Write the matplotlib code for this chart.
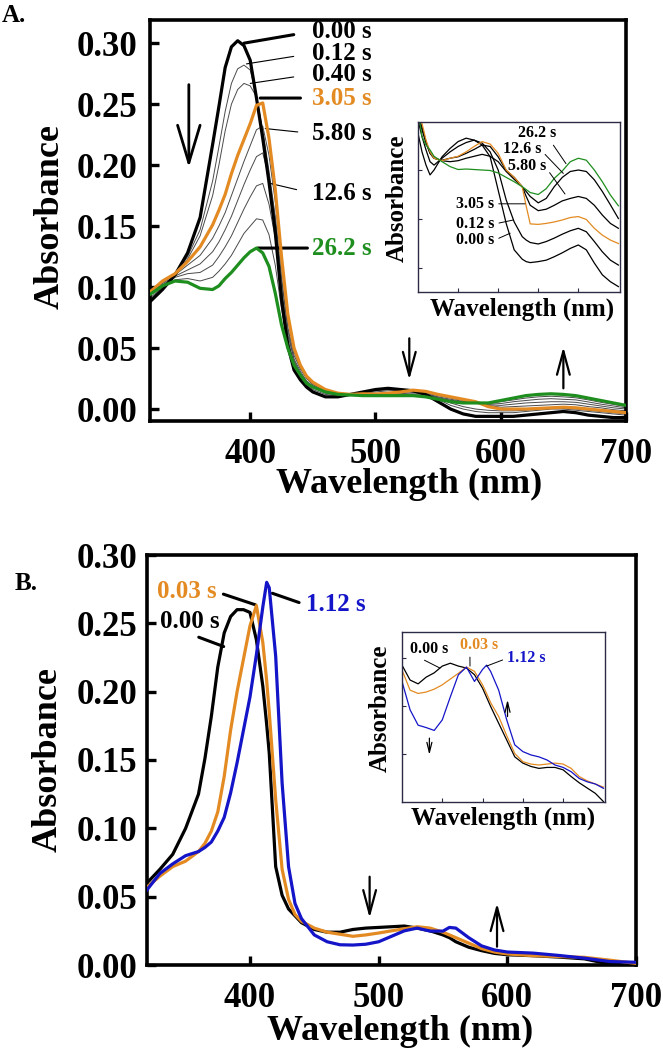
import matplotlib
matplotlib.use("Agg")
import matplotlib.pyplot as plt

plt.rcParams['font.family'] = ['Liberation Serif', 'DejaVu Serif']
plt.rcParams['font.weight'] = 'bold'
plt.rcParams['axes.labelweight'] = 'bold'

# ---------------- Panel A : main spectra ----------------
wl_a = [320, 330, 340, 350, 360, 370, 375, 380, 385, 390, 395, 400, 405, 410, 415,
        420, 425, 430, 435, 440, 445, 450, 460, 470, 480, 490, 500, 510, 520, 530,
        540, 550, 560, 570, 580, 590, 600, 610, 620, 630, 640, 650, 660, 670, 680,
        690, 700]
a_000 = [0.088, 0.098, 0.110, 0.128, 0.157, 0.217, 0.248, 0.280, 0.297, 0.302, 0.298, 0.286,
         0.255, 0.222, 0.186, 0.145, 0.090, 0.052, 0.032, 0.024, 0.018, 0.014, 0.010, 0.010,
         0.012, 0.014, 0.016, 0.017, 0.016, 0.015, 0.012, 0.006, 0.000, -0.004, -0.006,
         -0.006, -0.006, -0.006, -0.005, -0.004, -0.003, -0.002, -0.003, -0.005, -0.006,
         -0.007, -0.007]
a_012 = [0.090, 0.099, 0.110, 0.125, 0.147, 0.187, 0.215, 0.244, 0.267, 0.279, 0.282, 0.278,
         0.257, 0.226, 0.190, 0.152, 0.100, 0.058, 0.036, 0.027, 0.020, 0.016, 0.012, 0.011,
         0.012, 0.0135, 0.015, 0.016, 0.0155, 0.015, 0.0125, 0.008, 0.003, 0.000, -0.002,
         -0.003, -0.003, -0.003, -0.002, -0.001, 0.000, 0.000, -0.001, -0.002, -0.003,
         -0.004, -0.005]
a_040 = [0.091, 0.100, 0.110, 0.123, 0.142, 0.175, 0.200, 0.228, 0.250, 0.262, 0.267, 0.265,
         0.256, 0.229, 0.195, 0.158, 0.108, 0.065, 0.040, 0.029, 0.022, 0.018, 0.013, 0.012,
         0.012, 0.013, 0.014, 0.015, 0.015, 0.015, 0.013, 0.009, 0.005, 0.002, 0.000,
         -0.001, -0.0015, -0.0015, -0.001, 0.000, 0.0005, 0.0005, 0.000, -0.001, -0.002,
         -0.003, -0.004]
a_305 = [0.096, 0.105, 0.111, 0.121, 0.133, 0.151, 0.163, 0.176, 0.193, 0.208, 0.221, 0.234,
         0.249, 0.251, 0.222, 0.180, 0.125, 0.078, 0.050, 0.036, 0.027, 0.022, 0.016, 0.013,
         0.012, 0.0125, 0.0123, 0.013, 0.014, 0.0155, 0.0145, 0.012, 0.010, 0.008, 0.006,
         0.002, 0.000, 0.000, 0.000, 0.0005, 0.001, 0.0015, 0.001, 0.000, -0.001, -0.002,
         -0.003]
a_580 = [0.095, 0.104, 0.110, 0.118, 0.126, 0.140, 0.150, 0.161, 0.175, 0.189, 0.203, 0.216,
         0.229, 0.232, 0.208, 0.170, 0.117, 0.073, 0.047, 0.034, 0.026, 0.021, 0.0155, 0.013,
         0.012, 0.012, 0.012, 0.0125, 0.0133, 0.0145, 0.0135, 0.011, 0.009, 0.007, 0.0055,
         0.003, 0.0015, 0.002, 0.0025, 0.003, 0.0035, 0.004, 0.0035, 0.002, 0.001, -0.0005,
         -0.0015]
a_mid1 = [0.095, 0.103, 0.109, 0.114, 0.119, 0.129, 0.137, 0.147, 0.158, 0.171, 0.184, 0.196,
          0.207, 0.210, 0.190, 0.156, 0.106, 0.067, 0.044, 0.033, 0.025, 0.020, 0.015, 0.0125,
          0.012, 0.012, 0.0118, 0.012, 0.0125, 0.0135, 0.0127, 0.010, 0.008, 0.0063, 0.0052,
          0.0035, 0.003, 0.004, 0.005, 0.0055, 0.006, 0.006, 0.0055, 0.004, 0.0025, 0.001,
          0.000]
a_126 = [0.095, 0.102, 0.108, 0.111, 0.112, 0.118, 0.125, 0.133, 0.142, 0.153, 0.164, 0.174,
         0.183, 0.185, 0.168, 0.140, 0.096, 0.061, 0.041, 0.031, 0.023, 0.019, 0.0145, 0.0125,
         0.012, 0.0115, 0.0115, 0.0115, 0.012, 0.0125, 0.012, 0.0095, 0.0072, 0.0058, 0.005,
         0.004, 0.0045, 0.006, 0.007, 0.008, 0.0085, 0.008, 0.0075, 0.0058, 0.004, 0.0025,
         0.001]
a_mid2 = [0.094, 0.101, 0.106, 0.107, 0.105, 0.108, 0.113, 0.119, 0.126, 0.135, 0.144, 0.150,
          0.156, 0.155, 0.143, 0.118, 0.082, 0.055, 0.038, 0.029, 0.022, 0.018, 0.014, 0.012,
          0.012, 0.011, 0.011, 0.011, 0.0115, 0.0118, 0.011, 0.0088, 0.0066, 0.0054, 0.005,
          0.0045, 0.006, 0.0075, 0.009, 0.010, 0.0105, 0.010, 0.0092, 0.0075, 0.0055, 0.0038,
          0.002]
a_262 = [0.094, 0.101, 0.105, 0.104, 0.099, 0.098, 0.101, 0.107, 0.112, 0.118, 0.124, 0.129,
         0.132, 0.128, 0.117, 0.095, 0.069, 0.050, 0.036, 0.028, 0.021, 0.018, 0.014, 0.012,
         0.0115, 0.011, 0.011, 0.011, 0.011, 0.011, 0.010, 0.008, 0.006, 0.005, 0.005,
         0.005, 0.007, 0.009, 0.011, 0.012, 0.0125, 0.012, 0.011, 0.009, 0.007, 0.005,
         0.003]

# ---------------- Panel A : inset (relative absorbance units) ----------------
wl_ia = [450, 455, 460, 465, 470, 480, 490, 500, 510, 520, 530, 540, 550, 560, 570, 580,
         585, 590, 600, 610, 620, 630, 640, 650, 660, 670, 680, 690, 700]
ia_000 = [3.24, 2.86, 2.59, 2.39, 2.49, 2.76, 2.93, 3.07, 3.14, 3.10, 3.00, 2.76, 2.08, 1.40,
          0.86, 0.67, 0.62, 0.60, 0.62, 0.65, 0.72, 0.80, 0.89, 0.96, 0.86, 0.59, 0.35, 0.21,
          0.11]
ia_012 = [3.51, 3.17, 2.90, 2.66, 2.59, 2.73, 2.86, 2.97, 3.05, 3.10, 3.04, 2.86, 2.49, 1.88,
          1.43, 1.13, 1.06, 1.01, 0.98, 1.03, 1.10, 1.18, 1.25, 1.30, 1.23, 1.03, 0.82, 0.65,
          0.55]
ia_305 = [3.65, 3.44, 3.10, 2.86, 2.73, 2.68, 2.73, 2.77, 2.86, 2.97, 3.07, 3.02, 2.83, 2.49,
          2.34, 2.15, 1.75, 1.39, 1.38, 1.40, 1.43, 1.47, 1.52, 1.54, 1.48, 1.30, 1.16, 1.06,
          0.99]
ia_580 = [3.61, 3.37, 3.07, 2.84, 2.73, 2.69, 2.73, 2.76, 2.83, 2.91, 3.00, 2.97, 2.76, 2.48,
          2.34, 2.15, 1.95, 1.77, 1.66, 1.69, 1.77, 1.86, 1.91, 1.95, 1.91, 1.77, 1.57, 1.40,
          1.30]
ia_126 = [3.58, 3.31, 3.04, 2.83, 2.73, 2.68, 2.66, 2.68, 2.73, 2.77, 2.81, 2.77, 2.66, 2.46,
          2.30, 2.15, 2.05, 1.95, 1.82, 1.91, 2.15, 2.34, 2.46, 2.49, 2.46, 2.29, 2.05, 1.78,
          1.50]
ia_262 = [3.71, 3.17, 3.00, 2.90, 2.77, 2.66, 2.56, 2.50, 2.51, 2.50, 2.49, 2.48, 2.43, 2.34,
          2.25, 2.15, 2.09, 2.03, 1.99, 2.11, 2.32, 2.47, 2.66, 2.73, 2.69, 2.49, 2.25, 1.98,
          1.76]

# ---------------- Panel B : main spectra ----------------
wl_b = [320, 330, 340, 350, 360, 365, 370, 375, 380, 385, 390, 395, 400, 405, 410, 413,
        415, 420, 425, 430, 435, 440, 450, 460, 470, 480, 490, 500, 510, 520, 530, 540,
        550, 555, 560, 570, 580, 590, 600, 620, 640, 660, 680, 700]
b_000 = [0.060, 0.070, 0.081, 0.100, 0.125, 0.151, 0.182, 0.218, 0.243, 0.255, 0.260, 0.260,
         0.258, 0.238, 0.204, 0.176, 0.155, 0.072, 0.051, 0.041, 0.036, 0.031, 0.026, 0.024,
         0.024, 0.026, 0.027, 0.0275, 0.028, 0.0285, 0.027, 0.025, 0.022, 0.020, 0.017,
         0.013, 0.0105, 0.0085, 0.0075, 0.0068, 0.0058, 0.0045, 0.0005, 0.000]
b_003 = [0.057, 0.065, 0.072, 0.076, 0.083, 0.089, 0.098, 0.112, 0.138, 0.172, 0.200, 0.224,
         0.248, 0.263, 0.236, 0.208, 0.185, 0.121, 0.070, 0.048, 0.037, 0.032, 0.027, 0.024,
         0.0225, 0.021, 0.022, 0.0234, 0.025, 0.0265, 0.028, 0.027, 0.024, 0.022, 0.020,
         0.016, 0.012, 0.0095, 0.0081, 0.0068, 0.0062, 0.0056, 0.0035, 0.0012]
b_112 = [0.055, 0.067, 0.074, 0.080, 0.083, 0.086, 0.090, 0.098, 0.108, 0.126, 0.148, 0.172,
         0.196, 0.227, 0.262, 0.280, 0.276, 0.226, 0.133, 0.072, 0.045, 0.034, 0.022, 0.017,
         0.0148, 0.0146, 0.0152, 0.017, 0.021, 0.025, 0.027, 0.0248, 0.0248, 0.0275, 0.027,
         0.020, 0.014, 0.011, 0.0095, 0.0087, 0.007, 0.005, 0.0025, 0.002]

# ---------------- Panel B : inset (relative absorbance units) ----------------
wl_ib = [450, 460, 470, 480, 490, 500, 510, 520, 530, 540, 550, 555, 560, 570, 580, 590,
         600, 610, 620, 630, 640, 650, 660, 670, 680, 690, 700]
ib_000 = [2.85, 2.54, 2.46, 2.60, 2.69, 2.83, 2.89, 2.83, 2.79, 2.65, 2.37, 2.18, 1.99, 1.64,
          1.29, 0.94, 0.81, 0.74, 0.70, 0.72, 0.72, 0.67, 0.53, 0.40, 0.29, 0.18, 0.01]
ib_003 = [2.75, 2.33, 2.26, 2.29, 2.35, 2.44, 2.56, 2.68, 2.81, 2.72, 2.44, 2.26, 2.07, 1.78,
          1.38, 1.01, 0.84, 0.79, 0.77, 0.79, 0.81, 0.79, 0.70, 0.53, 0.44, 0.375, 0.31]
ib_112 = [2.51, 1.92, 1.60, 1.55, 1.49, 1.71, 2.19, 2.65, 2.81, 2.51, 2.76, 2.85, 2.72, 2.33,
          1.71, 1.19, 1.05, 0.98, 0.94, 0.875, 0.77, 0.72, 0.63, 0.49, 0.42, 0.375, 0.285]

# ---------------- tick labels / text ----------------
xticks_main = [400, 500, 600, 700]
yticks_a = [0.00, 0.05, 0.10, 0.15, 0.20, 0.25, 0.30]
yticks_b = [0.00, 0.05, 0.10, 0.15, 0.20, 0.25, 0.30]
xticks_inset = [500, 550, 600, 650]

ORANGE = '#E38B22'
GREEN = '#1E8E1E'
BLUE = '#1414C8'
THIN = '#4a4a4a'
INSET_EDGE = '#2b2b45'

TICK_FS = 25
LABEL_FS = 26
ANN_FS = 18
INSET_LABEL_FS = 18
INSET_ANN_FS = 11.5

fig = plt.figure(figsize=(6.63, 10.5), dpi=100)


def style_main(ax, yticks, xpad, ypad):
    for sp in ax.spines.values():
        sp.set_linewidth(2.6)
    ax.set_xticks(xticks_main)
    ax.set_yticks(yticks)
    ax.set_yticklabels(['%.2f' % v for v in yticks])
    ax.tick_params(axis='both', direction='in', length=6.5, width=2.4,
                   labelsize=TICK_FS, top=False, right=False)
    ax.tick_params(axis='x', pad=xpad)
    ax.tick_params(axis='y', pad=ypad)
    for lab in ax.get_xticklabels() + ax.get_yticklabels():
        lab.set_fontweight('bold')


def style_inset(ax, yticks):
    for sp in ax.spines.values():
        sp.set_linewidth(1.0)
        sp.set_color(INSET_EDGE)
    ax.set_xticks(xticks_inset)
    ax.set_yticks(yticks)
    ax.tick_params(axis='both', direction='in', length=3, width=0.8,
                   colors=INSET_EDGE, labelleft=False, labelbottom=False)


def leader(ax, text, xytext, xy, color, lw, fs, relpos=(0, 0.5), shrink=2):
    ax.annotate(text, xy=xy, xytext=xytext, textcoords='data', color=color,
                fontsize=fs, fontweight='bold', ha='left', va='center',
                annotation_clip=False,
                arrowprops=dict(arrowstyle='-', lw=lw, color='k', shrinkA=shrink,
                                shrinkB=0, relpos=relpos))


def arrow(ax, x, y0, y1, lw, hl, hw, ms):
    ax.annotate('', xy=(x, y1), xytext=(x, y0), annotation_clip=False,
                arrowprops=dict(arrowstyle='->,head_length=%g,head_width=%g' % (hl, hw),
                                lw=lw, color='k', mutation_scale=ms,
                                shrinkA=0, shrinkB=0))


# =================== Panel A ===================
axA = fig.add_axes([150 / 663, 1 - 421 / 1050, 476 / 663, 401 / 1050])
for series in (a_012, a_040, a_580, a_mid1, a_126, a_mid2):
    axA.plot(wl_a, series, color=THIN, lw=0.7, zorder=2)
axA.plot(wl_a, a_000, color='k', lw=2.3, zorder=4)
axA.plot(wl_a, a_305, color=ORANGE, lw=2.3, zorder=5)
axA.plot(wl_a, a_262, color=GREEN, lw=2.3, zorder=6)
axA.set_xlim(320, 700)
axA.set_ylim(-0.0098, 0.319)
style_main(axA, yticks_a, xpad=12, ypad=9)
axA.set_xlabel('Wavelength (nm)', fontsize=LABEL_FS, fontweight='bold')
axA.set_ylabel('Absorbance', fontsize=LABEL_FS, fontweight='bold')
axA.xaxis.set_label_coords(0.544, -0.118)
axA.yaxis.set_label_coords(-0.175, 0.51)

leader(axA, '0.00 s', (449, 0.3095), (395, 0.300), 'k', 2.2, ANN_FS, shrink=11)
leader(axA, '0.12 s', (449, 0.2915), (397, 0.283), 'k', 0.8, ANN_FS, shrink=11)
leader(axA, '0.40 s', (449, 0.2745), (400, 0.267), 'k', 0.8, ANN_FS, shrink=11)
leader(axA, '3.05 s', (449, 0.255), (408, 0.255), ORANGE, 2.2, ANN_FS, shrink=6)
leader(axA, '5.80 s', (449, 0.226), (412, 0.230), 'k', 0.8, ANN_FS, shrink=8)
leader(axA, '12.6 s', (449, 0.177), (416, 0.185), 'k', 0.8, ANN_FS, shrink=9)
leader(axA, '26.2 s', (449, 0.132), (406, 0.132), GREEN, 2.2, ANN_FS, shrink=1)

arrow(axA, 351, 0.266, 0.198, 2.0, 0.9, 0.27, 30)
arrow(axA, 527, 0.058, 0.024, 1.6, 0.85, 0.23, 20)
arrow(axA, 650, 0.017, 0.051, 1.6, 0.85, 0.23, 20)

fig.text(2 / 663, 1 - 15 / 1050, 'A.', fontsize=18, fontweight='bold', va='center', ha='left')

# inset A
iaxA = fig.add_axes([418 / 663, 1 - 292 / 1050, 202 / 663, 170 / 1050])
iaxA.plot(wl_ia, ia_000, color='k', lw=0.9)
iaxA.plot(wl_ia, ia_012, color='k', lw=0.9)
iaxA.plot(wl_ia, ia_580, color='k', lw=0.9)
iaxA.plot(wl_ia, ia_126, color='k', lw=0.9)
iaxA.plot(wl_ia, ia_305, color=ORANGE, lw=0.9)
iaxA.plot(wl_ia, ia_262, color=GREEN, lw=0.9)
iaxA.set_xlim(450, 702)
iaxA.set_ylim(0, 3.47)
style_inset(iaxA, [0.5, 1.5, 2.5])
iaxA.set_xlabel('Wavelength (nm)', fontsize=INSET_LABEL_FS, fontweight='bold')
iaxA.set_ylabel('Absorbance', fontsize=INSET_LABEL_FS, fontweight='bold')
iaxA.xaxis.set_label_coords(0.515, -0.03)
iaxA.yaxis.set_label_coords(-0.045, 0.55)

leader(iaxA, '26.2 s', (575, 3.24), (634.6, 2.62), 'k', 0.7, INSET_ANN_FS, relpos=(0.85, 0), shrink=1)
leader(iaxA, '12.6 s', (556, 2.92), (631.3, 2.42), 'k', 0.7, INSET_ANN_FS, relpos=(1, 0.4), shrink=1)
leader(iaxA, '5.80 s', (562, 2.57), (633.4, 2.00), 'k', 0.7, INSET_ANN_FS, relpos=(1, 0.4), shrink=1)
leader(iaxA, '3.05 s', (498, 1.80), (583.5, 1.80), 'k', 0.7, INSET_ANN_FS, relpos=(1, 0.5), shrink=1)
leader(iaxA, '0.12 s', (498, 1.39), (569, 1.47), 'k', 0.7, INSET_ANN_FS, relpos=(1, 0.5), shrink=1)
leader(iaxA, '0.00 s', (498, 1.06), (565, 1.20), 'k', 0.7, INSET_ANN_FS, relpos=(1, 0.5), shrink=1)

# =================== Panel B ===================
axB = fig.add_axes([147 / 663, 1 - 965 / 1050, 489 / 663, 410 / 1050])
axB.plot(wl_b, b_000, color='k', lw=2.3, zorder=4)
axB.plot(wl_b, b_003, color=ORANGE, lw=2.3, zorder=5)
axB.plot(wl_b, b_112, color=BLUE, lw=2.3, zorder=6)
axB.set_xlim(320, 700)
axB.set_ylim(0, 0.30)
style_main(axB, yticks_b, xpad=12, ypad=7)
axB.set_xlabel('Wavelength (nm)', fontsize=LABEL_FS, fontweight='bold')
axB.set_ylabel('Absorbance', fontsize=LABEL_FS, fontweight='bold')
axB.xaxis.set_label_coords(0.517, -0.121)
axB.yaxis.set_label_coords(-0.168, 0.5)

leader(axB, '0.03 s', (327.8, 0.273), (404.4, 0.2635), ORANGE, 2.2, ANN_FS, relpos=(1, 0.5), shrink=3)
leader(axB, '0.00 s', (330.2, 0.251), (379.6, 0.233), 'k', 2.2, ANN_FS, relpos=(0.48, 0), shrink=2)
leader(axB, '1.12 s', (443.4, 0.2635), (417.4, 0.272), BLUE, 2.2, ANN_FS, relpos=(0, 0.5), shrink=3)

arrow(axB, 493, 0.0646, 0.0344, 1.6, 0.85, 0.23, 20)
arrow(axB, 592, 0.0134, 0.0452, 1.6, 0.85, 0.23, 20)

fig.text(15 / 663, 1 - 583 / 1050, 'B.', fontsize=18, fontweight='bold', va='center', ha='left')

# inset B
iaxB = fig.add_axes([402 / 663, 1 - 802 / 1050, 203 / 663, 170 / 1050])
iaxB.plot(wl_ib, ib_000, color='k', lw=0.9)
iaxB.plot(wl_ib, ib_003, color=ORANGE, lw=0.9)
iaxB.plot(wl_ib, ib_112, color=BLUE, lw=0.9)
iaxB.set_xlim(450, 702)
iaxB.set_ylim(0, 3.54)
style_inset(iaxB, [1, 2, 3])
iaxB.set_xlabel('Wavelength (nm)', fontsize=INSET_LABEL_FS, fontweight='bold')
iaxB.set_ylabel('Absorbance', fontsize=INSET_LABEL_FS, fontweight='bold')
iaxB.xaxis.set_label_coords(0.50, -0.024)
iaxB.yaxis.set_label_coords(-0.05, 0.55)

leader(iaxB, '0.00 s', (460, 3.19), (497, 2.79), 'k', 0.7, INSET_ANN_FS, relpos=(0.2, 0), shrink=1)
leader(iaxB, '0.03 s', (522, 3.27), (534.4, 2.83), ORANGE, 0.7, INSET_ANN_FS, relpos=(0.26, 0), shrink=1)
leader(iaxB, '1.12 s', (580, 2.99), (555, 2.83), BLUE, 0.7, INSET_ANN_FS, relpos=(0, 0.5), shrink=1)

arrow(iaxB, 484, 1.33, 0.98, 0.9, 0.6, 0.15, 12)
arrow(iaxB, 581, 1.78, 2.13, 0.9, 0.6, 0.15, 12)

fig.savefig('out.png', dpi=100)
